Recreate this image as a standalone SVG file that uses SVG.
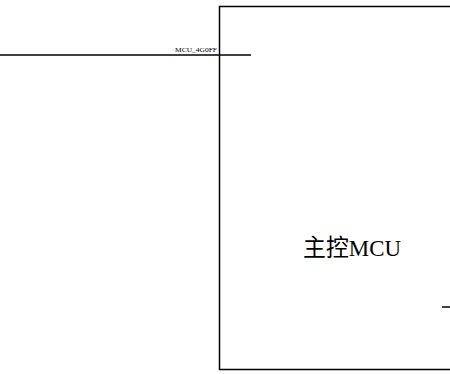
<svg xmlns="http://www.w3.org/2000/svg" width="450" height="374" viewBox="0 0 450 374">
<style>
.ln{stroke:#000;stroke-width:1.5;fill:none}
.t{font-family:"Liberation Serif","Noto Sans CJK SC",serif;fill:#000}
</style>
<rect width="450" height="374" fill="#fff"/>
<g id="mcu">
<path class="ln" d="M460,6.5 H219.5 V369.5 H460" stroke="#222"/>
<text class="t" x="303" y="256" font-size="24" textLength="98" lengthAdjust="spacingAndGlyphs">主控MCU</text>
<line class="ln" x1="442" y1="307" x2="450" y2="307"/>
</g>
<g id="connectors">
<line class="ln" x1="0" y1="55" x2="251" y2="55"/>
<text class="t" x="175" y="52" font-size="6" textLength="42" lengthAdjust="spacingAndGlyphs" fill="#555">MCU_4G0FF</text>
</g>
</svg>
